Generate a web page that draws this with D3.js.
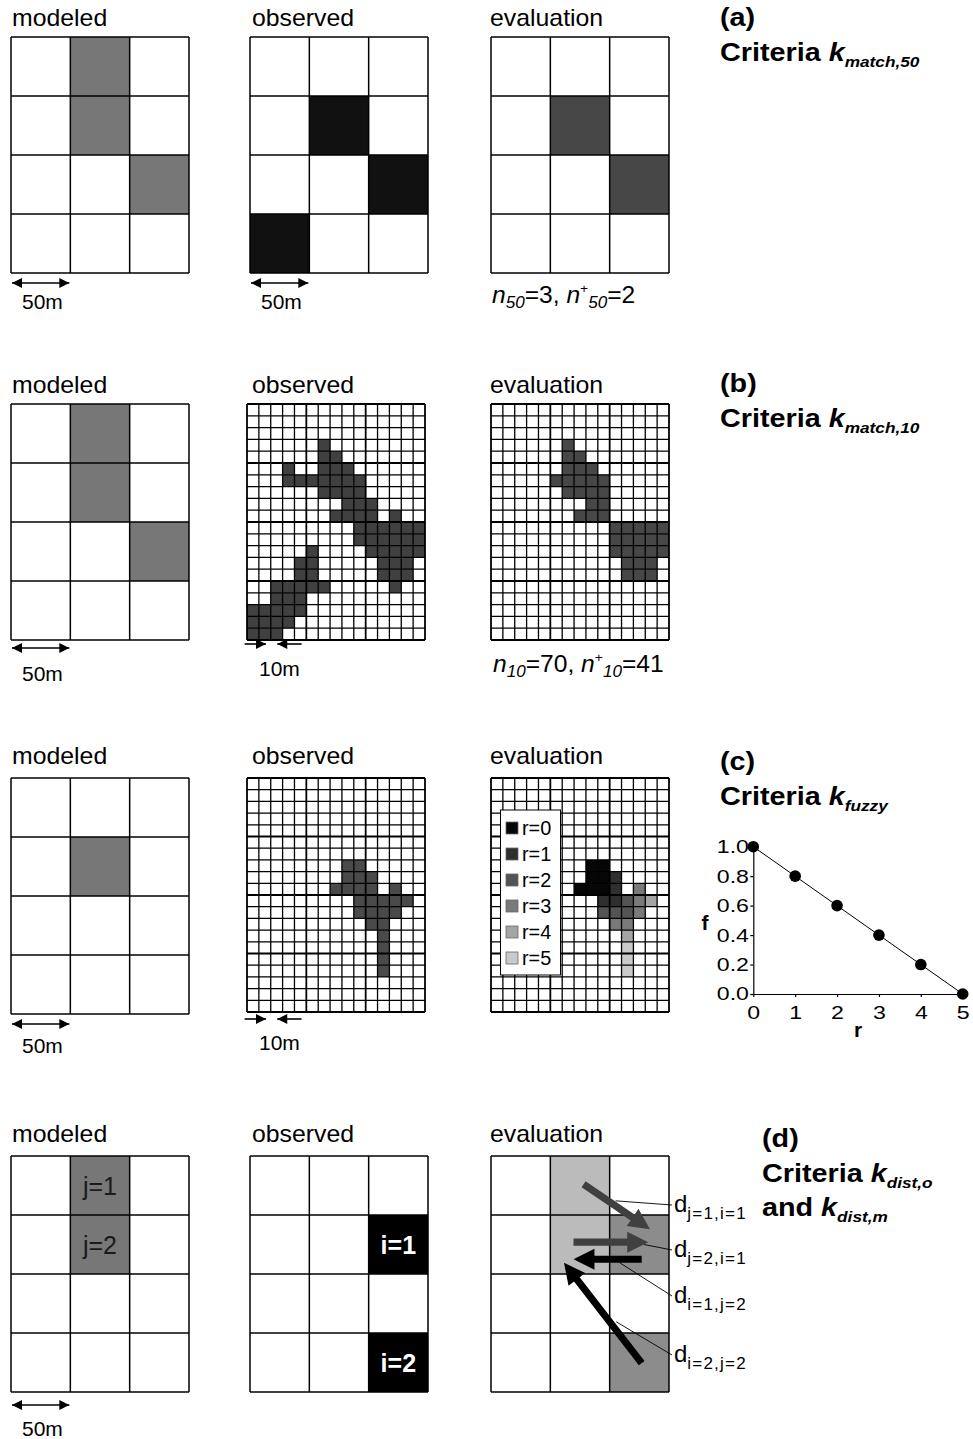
<!DOCTYPE html>
<html>
<head>
<meta charset="utf-8">
<script src="https://cdn.jsdelivr.net/npm/d3@7"></script>
<style>
  body { margin: 0; background: #fff; }
  text { font-family: "Liberation Sans", Arial, sans-serif; }
</style>
</head>
<body>
<svg id="fig" width="973" height="1439"></svg>
<script>
// ---- data ----
const coarseCols = 3, coarseRows = 4, fineCols = 15, fineRows = 20;

// coarse cells as [col, row]
const modeledA = [[1, 0], [1, 1], [2, 2]];
const observedA = [[1, 1], [2, 2], [0, 3]];
const evaluationA = [[1, 1], [2, 2]];
const modeledB = [[1, 0], [1, 1], [2, 2]];
const modeledC = [[1, 1]];

// fine cells as [row, [cols]]
const observedB = [
  [3, [6]], [4, [6, 7]], [5, [3, 6, 7, 8]], [6, [3, 4, 5, 6, 7, 8, 9]], [7, [6, 7, 8, 9]],
  [8, [8, 9, 10]], [9, [7, 8, 9, 10, 12]], [10, [9, 10, 11, 12, 13, 14]],
  [11, [9, 10, 11, 12, 13, 14]], [12, [5, 10, 11, 12, 13, 14]], [13, [4, 5, 11, 12, 13]],
  [14, [4, 5, 11, 12, 13]], [15, [2, 3, 4, 5, 6, 12]], [16, [2, 3, 4]], [17, [0, 1, 2, 3, 4]],
  [18, [0, 1, 2, 3]], [19, [0, 1, 2]]
];
const evaluationB = [
  [3, [6]], [4, [6, 7]], [5, [6, 7, 8]], [6, [5, 6, 7, 8, 9]], [7, [6, 7, 8, 9]],
  [8, [8, 9]], [9, [7, 8, 9]], [10, [10, 11, 12, 13, 14]], [11, [10, 11, 12, 13, 14]],
  [12, [10, 11, 12, 13, 14]], [13, [11, 12, 13]], [14, [11, 12, 13]]
];
const observedC = [
  [7, [8, 9]], [8, [8, 9, 10]], [9, [7, 8, 9, 10, 12]], [10, [9, 10, 11, 12, 13]],
  [11, [9, 10, 11, 12]], [12, [10, 11]], [13, [11]], [14, [11]], [15, [11]], [16, [11]]
];
// r value of each observed (c) cell, same order as observedC
const evaluationCr = [
  [7, [0, 0]], [8, [0, 0, 1]], [9, [0, 0, 0, 1, 3]], [10, [1, 1, 2, 3, 4]],
  [11, [2, 2, 2, 3]], [12, [3, 3]], [13, [4]], [14, [5]], [15, [5]], [16, [5]]
];
const rLevels = [0, 1, 2, 3, 4, 5];
const rColors = ["#060606", "#2f2f2f", "#545454", "#7a7a7a", "#a5a5a5", "#cacaca"];

const fuzzyR = [0, 1, 2, 3, 4, 5];
const fuzzyF = [1.0, 0.8, 0.6, 0.4, 0.2, 0.0];
const fuzzyYTicks = [0, 0.2, 0.4, 0.6, 0.8, 1.0];

// panel (d)
const modeledD = [[1, 0, "j=1"], [1, 1, "j=2"]];
const observedD = [[2, 1, "i=1"], [2, 3, "i=2"]];
const evalDLight = [[1, 0], [1, 1]];
const evalDMid = [[2, 1], [2, 3]];
// distance arrows in grid units: [x1, y1, x2, y2, colour]
const distArrows = [
  [1.56, 0.48, 2.68, 1.24, "#404040"],
  [1.39, 1.46, 2.65, 1.46, "#404040"],
  [2.54, 1.75, 1.39, 1.75, "#000"],
  [2.54, 3.51, 1.23, 1.81, "#000"]
];
const distNames = ["j=1,i=1", "j=2,i=1", "i=1,j=2", "i=2,j=2"];
// leader start points in grid units
const distLeaders = [[2.1, 0.76], [2.58, 1.5], [2.17, 1.81], [2.11, 2.81]];

// ---- drawing ----
const svg = d3.select("#fig");
const W = 178;

const defs = svg.append("defs");
defs.append("marker").attr("id", "head")
  .attr("viewBox", "0 0 10 10").attr("refX", 10).attr("refY", 5)
  .attr("markerWidth", 11).attr("markerHeight", 10)
  .attr("markerUnits", "userSpaceOnUse")
  .attr("orient", "auto-start-reverse")
  .append("path").attr("d", "M0,0L10,5L0,10z").attr("fill", "#000");

function label(x, y, parts, o = {}) {
  const t = svg.append("text")
    .attr("transform", `translate(${x},${y}) scale(${o.sx || 1},1)`)
    .attr("font-size", o.size || 21)
    .attr("font-weight", o.weight || "normal")
    .attr("fill", o.fill || "#000")
    .attr("text-anchor", o.anchor || "start");
  let shift = 0;
  (typeof parts === "string" ? [{ t: parts }] : parts).forEach(p => {
    const target = p.dy || 0;
    const s = t.append("tspan").text(p.t).attr("dy", target - shift);
    shift = target;
    if (p.size) s.attr("font-size", p.size);
    if (p.italic) s.attr("font-style", "italic");
    if (p.weight) s.attr("font-weight", p.weight);
    if (p.ls) s.attr("letter-spacing", p.ls);
    if (p.dx) s.attr("dx", p.dx);
  });
  return t;
}

function cellsCoarse(list, fill) {
  return list.map(d => ({ c: d[0], r: d[1], fill }));
}
function cellsFine(list, fill) {
  return list.flatMap(([r, cs]) => cs.map(c => ({ c, r, fill })));
}

function grid(x0, y0, h, cols, rows, fills, fine) {
  const x = d3.scaleLinear().domain([0, cols]).range([x0, x0 + W]);
  const y = d3.scaleLinear().domain([0, rows]).range([y0, y0 + h]);
  const g = svg.append("g");
  g.append("rect").attr("x", x0).attr("y", y0).attr("width", W).attr("height", h).attr("fill", "#fff");
  g.selectAll("rect.cell").data(fills).join("rect").attr("class", "cell")
    .attr("x", d => x(d.c)).attr("y", d => y(d.r))
    .attr("width", x(1) - x(0)).attr("height", y(1) - y(0))
    .attr("fill", d => d.fill);
  const sw = i => fine ? (i % 5 === 0 ? 1.8 : 1.3) : 1.5;
  g.selectAll("line.v").data(d3.range(cols + 1)).join("line").attr("class", "v")
    .attr("x1", d => x(d)).attr("x2", d => x(d)).attr("y1", y0).attr("y2", y0 + h)
    .attr("stroke", "#000").attr("stroke-width", sw);
  g.selectAll("line.h").data(d3.range(rows + 1)).join("line").attr("class", "h")
    .attr("y1", d => y(d)).attr("y2", d => y(d)).attr("x1", x0).attr("x2", x0 + W)
    .attr("stroke", "#000").attr("stroke-width", sw);
  return { x, y, g };
}

function scaleBar(gr, yy, textY) {
  svg.append("line")
    .attr("x1", gr.x(0) + 1).attr("x2", gr.x(1) - 1).attr("y1", yy).attr("y2", yy)
    .attr("stroke", "#000").attr("stroke-width", 1.6)
    .attr("marker-start", "url(#head)").attr("marker-end", "url(#head)");
  label(gr.x(0) + 11, textY, "50m", { size: 21 });
}
function fineBar(gr, yy, textY) {
  [[-0.2, 1.6], [4.6, 2.55]].forEach(([a, b]) => {
    svg.append("line")
      .attr("x1", gr.x(a)).attr("x2", gr.x(b)).attr("y1", yy).attr("y2", yy)
      .attr("stroke", "#000").attr("stroke-width", 1.6)
      .attr("marker-end", "url(#head)");
  });
  label(gr.x(0) + 12, textY, "10m", { size: 21 });
}

const headSty = { size: 23, sx: 1.08 };
function heads(y) {
  label(12, y, "modeled", headSty);
  label(252, y, "observed", headSty);
  label(490, y, "evaluation", headSty);
}
function title(x, y, letter, lines) {
  label(x, y, letter, { size: 25, weight: "bold", sx: 1.15 });
  lines.forEach((ln, i) => label(x, y + 35 + i * 34, ln, { size: 25, weight: "bold", sx: 1.15 }));
}
function crit(pre, sub) {
  return [{ t: pre }, { t: "k", italic: true }, { t: sub, italic: true, size: 15, dy: 6 }];
}

const MOD = "#777777";

// ---- panel (a) ----
heads(26);
const aM = grid(11, 37, 236, coarseCols, coarseRows, cellsCoarse(modeledA, MOD));
const aO = grid(250, 37, 236, coarseCols, coarseRows, cellsCoarse(observedA, "#111"));
grid(491, 37, 236, coarseCols, coarseRows, cellsCoarse(evaluationA, "#474747"));
scaleBar(aM, 283, 309);
scaleBar(aO, 283, 309);
label(492, 303, [
  { t: "n", italic: true }, { t: "50", italic: true, size: 16, dy: 5 },
  { t: "=3, ", dy: 0 }, { t: "n", italic: true }, { t: "+", size: 13, dy: -10 },
  { t: "50", italic: true, size: 16, dy: 5 }, { t: "=2", dy: 0 }
], { size: 23, sx: 1.07 });
title(720, 26, "(a)", [crit("Criteria ", "match,50")]);

// ---- panel (b) ----
heads(393);
const bM = grid(11, 404, 236, coarseCols, coarseRows, cellsCoarse(modeledB, MOD));
const bO = grid(247, 404, 236, fineCols, fineRows, cellsFine(observedB, "#404040"), true);
grid(491, 404, 236, fineCols, fineRows, cellsFine(evaluationB, "#474747"), true);
scaleBar(bM, 648, 681);
fineBar(bO, 644, 676);
label(493, 672, [
  { t: "n", italic: true }, { t: "10", italic: true, size: 16, dy: 5 },
  { t: "=70, ", dy: 0 }, { t: "n", italic: true }, { t: "+", size: 13, dy: -10 },
  { t: "10", italic: true, size: 16, dy: 5 }, { t: "=41", dy: 0 }
], { size: 23, sx: 1.07 });
title(720, 392, "(b)", [crit("Criteria ", "match,10")]);

// ---- panel (c) ----
heads(764);
const cM = grid(11, 778, 236, coarseCols, coarseRows, cellsCoarse(modeledC, MOD));
const cO = grid(247, 778, 234, fineCols, fineRows, cellsFine(observedC, "#4a4a4a"), true);
const cEcells = evaluationCr.flatMap(([r, rs], i) =>
  rs.map((rv, k) => ({ c: observedC[i][1][k], r, fill: rColors[rv] })));
grid(491, 778, 234, fineCols, fineRows, cEcells, true);
scaleBar(cM, 1024, 1053);
fineBar(cO, 1019, 1050);

// legend
const legY = d3.scaleLinear().domain([0, 5]).range([828, 958]);
svg.append("rect").attr("x", 500.5).attr("y", 810).attr("width", 60).attr("height", 165)
  .attr("fill", "#fff").attr("stroke", "#000").attr("stroke-width", 1);
rLevels.forEach(r => {
  svg.append("rect").attr("x", 506).attr("y", legY(r) - 6).attr("width", 12).attr("height", 12)
    .attr("fill", rColors[r]).attr("stroke", "#666").attr("stroke-width", 0.8);
  label(522, legY(r) + 7, "r=" + r, { size: 19.5, sx: 1.02 });
});

title(720, 770, "(c)", [crit("Criteria ", "fuzzy")]);

// fuzzy function chart
const fx = d3.scaleLinear().domain([0, 5]).range([753.3, 962.7]);
const fy = d3.scaleLinear().domain([0, 1]).range([994, 846.7]);
const ax = svg.append("g").attr("transform", "translate(0,994)")
  .call(d3.axisBottom(fx).tickValues(fuzzyR).tickFormat(d3.format("d"))
    .tickSize(3).tickPadding(9).tickSizeOuter(0));
const ay = svg.append("g").attr("transform", "translate(753.3,0)")
  .call(d3.axisLeft(fy).tickValues(fuzzyYTicks).tickFormat(d3.format(".1f"))
    .tickSize(3).tickSizeOuter(0));
[ax, ay].forEach(a => {
  a.selectAll("path,line").attr("stroke", "#000").attr("stroke-width", 1.2);
  a.selectAll("text").attr("font-size", 18.5).attr("fill", "#000")
    .attr("font-family", "Liberation Sans, Arial, sans-serif");
});
ax.selectAll("text").attr("transform", "scale(1.25,1)");
ay.selectAll("text").attr("x", -3.5).attr("transform", "scale(1.25,1)");
svg.append("path").datum(fuzzyR.map((r, i) => [r, fuzzyF[i]]))
  .attr("d", d3.line().x(d => fx(d[0])).y(d => fy(d[1])))
  .attr("fill", "none").attr("stroke", "#000").attr("stroke-width", 1);
svg.selectAll("circle.pt").data(fuzzyR).join("circle").attr("class", "pt")
  .attr("cx", d => fx(d)).attr("cy", (d, i) => fy(fuzzyF[i])).attr("r", 5.8).attr("fill", "#000");
label(fx(2.5), 1037, "r", { size: 21, weight: "bold", anchor: "middle" });
label(705, 930, "f", { size: 21, weight: "bold", anchor: "middle" });

// ---- panel (d) ----
heads(1142);
const dM = grid(11, 1156, 236, coarseCols, coarseRows, cellsCoarse(modeledD, MOD));
const dO = grid(250, 1156, 236, coarseCols, coarseRows, cellsCoarse(observedD, "#000"));
const dE = grid(491, 1156, 236, coarseCols, coarseRows,
  cellsCoarse(evalDLight, "#bbbbbb").concat(cellsCoarse(evalDMid, "#8c8c8c")));
modeledD.forEach(([c, r, t]) =>
  label(dM.x(c + 0.5), dM.y(r + 0.5) + 9, t, { size: 25, anchor: "middle", fill: "#1a1a1a" }));
observedD.forEach(([c, r, t]) =>
  label(dO.x(c + 0.5), dO.y(r + 0.5) + 9, t, { size: 25, weight: "bold", anchor: "middle", fill: "#fff" }));
scaleBar(dM, 1405, 1436);

function fatArrow(x1, y1, x2, y2, col) {
  const dx = x2 - x1, dy = y2 - y1, L = Math.hypot(dx, dy);
  const ux = dx / L, uy = dy / L, nx = -uy, ny = ux;
  const sw = 3.6, hw = 10.5, hl = 21;
  const bx = x2 - ux * hl, by = y2 - uy * hl;
  const pts = [
    [x1 + nx * sw, y1 + ny * sw], [bx + nx * sw, by + ny * sw], [bx + nx * hw, by + ny * hw],
    [x2, y2], [bx - nx * hw, by - ny * hw], [bx - nx * sw, by - ny * sw], [x1 - nx * sw, y1 - ny * sw]
  ];
  svg.append("polygon").attr("points", pts.map(p => p.join(",")).join(" ")).attr("fill", col);
}
distArrows.forEach(([a, b, c, d, col]) => fatArrow(dE.x(a), dE.y(b), dE.x(c), dE.y(d), col));

const labY = [1212, 1257, 1303, 1362];
distNames.forEach((nm, i) => {
  const [gx, gy] = distLeaders[i];
  svg.append("line").attr("x1", dE.x(gx)).attr("y1", dE.y(gy))
    .attr("x2", 672).attr("y2", labY[i] - 7).attr("stroke", "#000").attr("stroke-width", 0.9);
  label(674, labY[i], [{ t: "d" }, { t: nm, size: 17, dy: 7, ls: 1.2 }], { size: 24 });
});
title(762, 1147, "(d)", [crit("Criteria ", "dist,o"), crit("and ", "dist,m")]);
</script>
</body>
</html>
